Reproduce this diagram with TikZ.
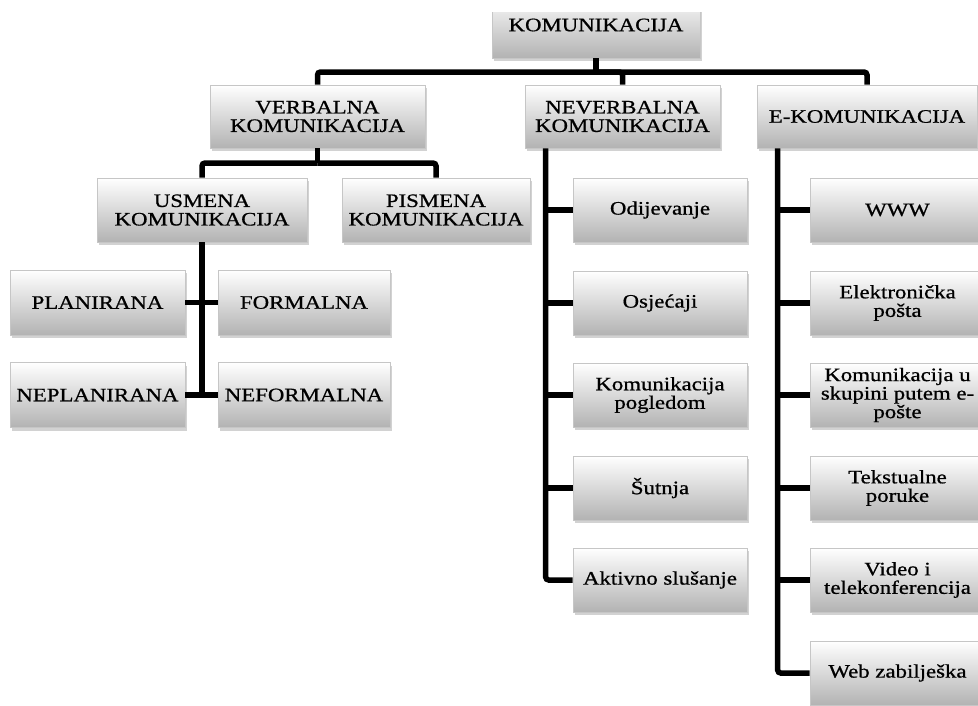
\documentclass[tikz,border=0pt]{standalone}
\usepackage{fontspec}
\setmainfont{Liberation Serif}[FakeStretch=1.2, FakeBold=0.8]
\usetikzlibrary{shadows}
\tikzset{
  box/.style={rectangle, inner sep=1pt, align=center, font=\fontsize{19}{18.5}\selectfont,
    top color=white, bottom color=gray!60, draw=gray!45, line width=0.6pt,
    drop shadow={opacity=0.35, shadow xshift=1.5pt, shadow yshift=-3pt}},
  conn/.style={line width=5.5pt, rounded corners=3pt, black}
}
\begin{document}
\begin{tikzpicture}[x=1pt,y=-1pt]
\useasboundingbox (0,0) rectangle (978,705);
\clip (0,0) rectangle (978,705);
\fill[white] (0,0) rectangle (978,705);
% top node (cropped at the top)
\begin{scope}
\clip (0,12) rectangle (978,705);
\node[box, minimum width=208pt, minimum height=66pt] (top) at (596,25) {KOMUNIKACIJA};
\end{scope}
% level 2
\node[box, minimum width=215pt, minimum height=63pt] (verb) at (317.5,116.5) {VERBALNA\\KOMUNIKACIJA};
\node[box, minimum width=195pt, minimum height=63pt] (never) at (622.5,116.5) {NEVERBALNA\\KOMUNIKACIJA};
\node[box, minimum width=220pt, minimum height=63pt] (ekom) at (867,116.5) {E-KOMUNIKACIJA};
% verbal branch
\node[box, minimum width=210pt, minimum height=64pt] (usm) at (202,210) {USMENA\\KOMUNIKACIJA};
\node[box, minimum width=188pt, minimum height=64pt] (pism) at (436,210) {PISMENA\\KOMUNIKACIJA};
\node[box, minimum width=175pt, minimum height=65pt] (plan) at (97.5,302.5) {PLANIRANA};
\node[box, minimum width=172pt, minimum height=65pt] (form) at (304,302.5) {FORMALNA};
\node[box, minimum width=175pt, minimum height=65pt] (neplan) at (97.5,395) {NEPLANIRANA};
\node[box, minimum width=172pt, minimum height=65pt] (neform) at (304,395) {NEFORMALNA};
% neverbal column
\tikzset{nvbox/.style={box, minimum width=174pt, minimum height=64pt}}
\node[nvbox] (odij) at (660,210) {Odijevanje};
\node[nvbox] (osje) at (660,303) {Osjećaji};
\node[nvbox] (pogl) at (660,395) {Komunikacija\\pogledom};
\node[nvbox] (sut) at (660,488) {Šutnja};
\node[nvbox] (akt) at (660,580) {Aktivno slušanje};
% e column
\tikzset{ebox/.style={box, minimum width=175pt, minimum height=64pt}}
\node[ebox] (www) at (897.5,210) {WWW};
\node[ebox] (elek) at (897.5,303) {Elektronička\\pošta};
\node[ebox] (skup) at (897.5,395) {Komunikacija u\\skupini putem e-\\pošte};
\node[ebox] (teks) at (897.5,488) {Tekstualne\\poruke};
\node[ebox] (vid) at (897.5,580) {Video i\\telekonferencija};
\node[ebox] (web) at (897.5,673) {Web zabilješka};
% connectors level 1
\coordinate (b1) at (596,72);
\draw[conn] (top.south) -- (b1);
\draw[conn] (verb.north) |- (b1);
\draw[conn] (never.north) |- (b1);
\draw[conn] (ekom.north) |- (b1);
% verbal
\coordinate (b2) at (317.5,163);
\draw[conn] (verb.south) -- (b2);
\draw[conn] (usm.north) |- (b2);
\draw[conn] (pism.north) |- (b2);
% usmena
\draw[conn] (usm.south) -- (usm.south |- neplan.east);
\draw[conn] (plan.east) -- (form.west);
\draw[conn] (neplan.east) -- (neform.west);
% neverbal
\coordinate (nv) at ([xshift=21pt]never.south west);
\draw[conn] (nv) |- (akt.west);
\draw[conn] (nv |- odij.west) -- (odij.west);
\draw[conn] (nv |- osje.west) -- (osje.west);
\draw[conn] (nv |- pogl.west) -- (pogl.west);
\draw[conn] (nv |- sut.west) -- (sut.west);
% e-kom
\coordinate (ev) at ([xshift=21pt]ekom.south west);
\draw[conn] (ev) |- (web.west);
\draw[conn] (ev |- www.west) -- (www.west);
\draw[conn] (ev |- elek.west) -- (elek.west);
\draw[conn] (ev |- skup.west) -- (skup.west);
\draw[conn] (ev |- teks.west) -- (teks.west);
\draw[conn] (ev |- vid.west) -- (vid.west);
\end{tikzpicture}
\end{document}
